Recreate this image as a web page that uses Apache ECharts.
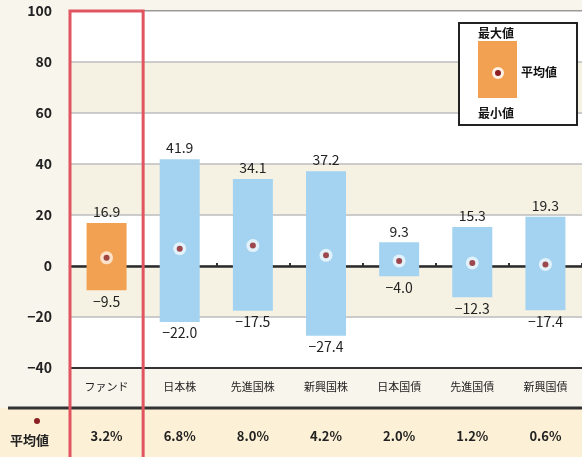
<!DOCTYPE html>
<html>
<head>
<meta charset="utf-8">
<script src="https://cdn.jsdelivr.net/npm/echarts@6/dist/echarts.min.js"></script>
<style>
  html, body { margin: 0; padding: 0; background: #f8f5ec; }
  #chart { width: 582px; height: 457px; }
</style>
</head>
<body>
<div id="chart"></div>
<script>
const categories = ['ファンド', '日本株', '先進国株', '新興国株', '日本国債', '先進国債', '新興国債'];
const maxValues = [16.9, 41.9, 34.1, 37.2, 9.3, 15.3, 19.3];
const minValues = [-9.5, -22.0, -17.5, -27.4, -4.0, -12.3, -17.4];
const meanValues = [3.2, 6.8, 8.0, 4.2, 2.0, 1.2, 0.6];
const yTicks = [-40, -20, 0, 20, 40, 60, 80, 100];

const FONT = '"Noto Sans CJK JP", "Noto Sans", sans-serif';
const ORANGE = '#f2a152';
const BLUE = '#a3d3f0';
const DOT = '#8b1e22';

const fmt = v => (v < 0 ? '\u2212' + Math.abs(v).toFixed(1) : v.toFixed(1));
const barColor = p => (p.dataIndex === 0 ? ORANGE : BLUE);

const chart = echarts.init(document.getElementById('chart'));

chart.setOption({
    animation: false,
    backgroundColor: '#f8f5ec',
    grid: {
        left: 70,
        right: 0,
        top: 11,
        bottom: 89,
        show: true,
        borderColor: '#333',
        borderWidth: 2,
        backgroundColor: 'transparent',
    },
    xAxis: [
        {
            type: 'category',
            data: categories,
            axisLine: {onZero: false, lineStyle: {color: '#333', width: 2}},
            axisTick: {show: false},
            axisLabel: {color: '#222', fontFamily: FONT, fontSize: 11, margin: 13},
        },
        {
            type: 'category',
            data: categories,
            position: 'top',
            axisLine: {onZero: true, lineStyle: {color: '#2b2b2b', width: 2.5}},
            axisTick: {show: true, length: 3, lineStyle: {color: '#333', width: 2}},
            axisLabel: {show: false},
        },
        {
            type: 'category',
            data: categories,
            position: 'bottom',
            offset: 50,
            axisLine: {show: false},
            axisTick: {show: false},
            axisLabel: {
                color: '#222',
                fontFamily: FONT,
                fontWeight: 'bold',
                fontSize: 13,
                margin: 12,
                formatter: (v, i) => meanValues[i].toFixed(1) + '%',
            },
        },
    ],
    yAxis: {
        type: 'value',
        min: yTicks[0],
        max: yTicks[yTicks.length - 1],
        interval: 20,
        axisLine: {show: false},
        axisTick: {show: false},
        axisLabel: {
            color: '#222',
            fontFamily: FONT,
            fontWeight: 'bold',
            fontSize: 14,
            margin: 18,
            formatter: v => (v < 0 ? '\u2212' + Math.abs(v) : String(v)),
        },
        splitLine: {lineStyle: {color: '#bdbdbd', width: 1.5}},
        splitArea: {show: true, areaStyle: {color: ['#ffffff', '#f6f2e3']}},
    },
    series: [
        {
            type: 'bar',
            stack: 'range',
            barWidth: 40,
            data: maxValues,
            itemStyle: {color: barColor},
            label: {
                show: true,
                position: 'top',
                distance: 4,
                color: '#222',
                fontFamily: FONT,
                fontSize: 14,
                formatter: p => fmt(p.value),
            },
        },
        {
            type: 'bar',
            stack: 'range',
            barWidth: 40,
            data: minValues,
            itemStyle: {color: barColor},
            label: {
                show: true,
                position: 'bottom',
                distance: 4,
                color: '#222',
                fontFamily: FONT,
                fontSize: 14,
                formatter: p => fmt(p.value),
            },
        },
        {
            type: 'scatter',
            data: meanValues,
            symbol: 'circle',
            symbolSize: 13,
            itemStyle: {color: 'rgba(255,255,255,0.85)'},
            z: 5,
        },
        {
            type: 'scatter',
            data: meanValues,
            symbol: 'circle',
            symbolSize: 6,
            itemStyle: {color: DOT},
            z: 6,
        },
    ],
});

// decorations: fund highlight box, bottom mean row, legend
const left = chart.convertToPixel({xAxisIndex: 0}, 0);
const next = chart.convertToPixel({xAxisIndex: 0}, 1);
const band = next - left;
const boxX = left - band / 2;

chart.setOption({
    graphic: [
        {
            type: 'rect',
            z: -1,
            shape: {x: 0, y: 408, width: 582, height: 49},
            style: {fill: '#fcf0d6'},
            silent: true,
        },
        {
            type: 'line',
            z: 1,
            shape: {x1: 8, y1: 408, x2: 582, y2: 408},
            style: {stroke: '#333', lineWidth: 3},
        },
        {
            type: 'rect',
            z: 10,
            shape: {x: boxX, y: 11, width: band, height: 450},
            style: {fill: 'none', stroke: '#e05560', lineWidth: 3},
        },
        {
            type: 'circle',
            z: 10,
            shape: {cx: 37, cy: 421, r: 3},
            style: {fill: DOT},
        },
        {
            type: 'text',
            z: 10,
            left: 10,
            top: 434,
            style: {text: '平均値', font: 'bold 13px ' + FONT, fill: '#222'},
        },
        {
            type: 'group',
            z: 10,
            left: 458,
            top: 22,
            children: [
                {
                    type: 'rect',
                    shape: {x: 0, y: 0, width: 118, height: 102},
                    style: {fill: '#ffffff', stroke: '#222', lineWidth: 2},
                },
                {
                    type: 'rect',
                    shape: {x: 19, y: 18, width: 39, height: 57},
                    style: {fill: ORANGE},
                },
                {
                    type: 'circle',
                    shape: {cx: 39, cy: 50, r: 6},
                    style: {fill: 'rgba(255,255,255,0.85)'},
                },
                {
                    type: 'circle',
                    shape: {cx: 39, cy: 50, r: 3},
                    style: {fill: DOT},
                },
                {
                    type: 'text',
                    x: 19,
                    y: 4,
                    style: {text: '最大値', font: 'bold 12px ' + FONT, fill: '#111'},
                },
                {
                    type: 'text',
                    x: 62,
                    y: 43,
                    style: {text: '平均値', font: 'bold 12px ' + FONT, fill: '#111'},
                },
                {
                    type: 'text',
                    x: 19,
                    y: 84,
                    style: {text: '最小値', font: 'bold 12px ' + FONT, fill: '#111'},
                },
            ],
        },
    ],
});
</script>
</body>
</html>
